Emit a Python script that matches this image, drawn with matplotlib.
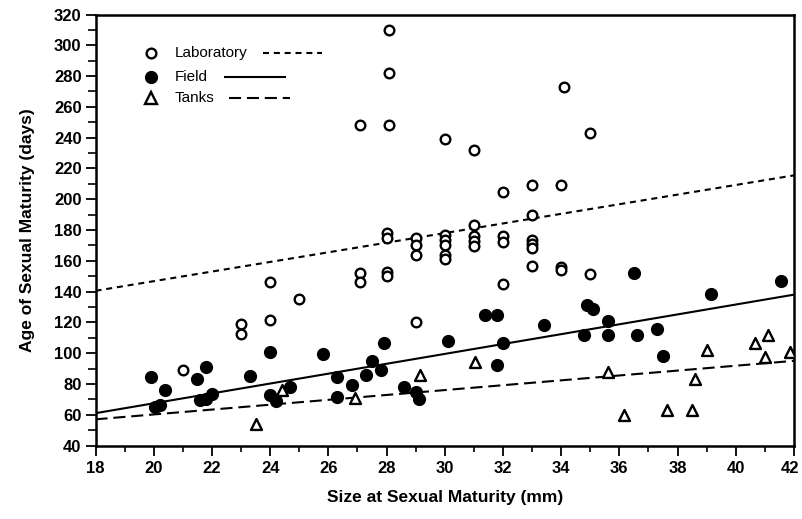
import matplotlib
matplotlib.use("Agg")
import matplotlib.pyplot as plt
from matplotlib.lines import Line2D
from matplotlib.ticker import MultipleLocator
import matplotlib.transforms as mtransforms

# ---- data ----
lab_x = [28.1, 28.1, 34.1, 27.1, 28.1, 30.0, 31.0, 35.0,
         32.0, 33.0, 34.0, 33.0, 31.0,
         28.0, 28.0, 29.0, 29.0, 29.0,
         30.0, 30.0, 30.0, 30.0, 30.0,
         31.0, 31.0, 31.0,
         32.0, 32.0,
         33.0, 33.0, 33.0,
         27.1, 27.1, 28.0, 28.0, 32.0, 33.0, 34.0, 34.0, 35.0,
         24.0, 25.0, 23.0, 23.0, 24.0, 21.0, 29.0]
lab_y = [310, 282, 273, 248, 248, 239, 232, 243,
         205, 209, 209, 190, 183,
         178, 175, 175, 170, 164,
         177, 173.5, 170.5, 164, 161,
         176, 173, 169.5,
         176, 172.5,
         173.5, 171, 168,
         152, 146.5, 152.5, 150, 145, 156.5, 156, 154, 151.5,
         146.5, 135, 119, 112.5, 121.5, 89, 120.5]

field_x = [19.9, 20.4, 20.05, 20.2, 21.5, 21.8, 21.6, 21.8, 22.0, 23.3,
           24.0, 24.0, 24.2, 24.7, 25.8, 26.3, 26.3, 26.8, 27.5, 27.3,
           27.8, 27.9, 28.6, 29.0, 29.1, 30.1, 31.4, 31.8, 32.0, 31.8,
           33.4, 34.9, 35.1, 35.6, 34.8, 35.6, 36.6, 37.3, 37.5, 36.5,
           39.15, 41.55]
field_y = [84.5, 76, 65, 66.5, 83, 91, 69.5, 70, 73.5, 85,
           101, 73, 69, 78, 99.5, 84.5, 71.5, 79, 95, 85.5,
           89, 106.5, 78, 74.5, 70, 108, 125, 125, 106.5, 92,
           118, 131, 129, 121, 112, 112, 112, 116, 98, 152,
           138.5, 147]

tank_x = [23.5, 24.4, 26.9, 29.15, 31.05, 35.6, 36.15, 37.65, 38.5, 38.6,
          39.0, 40.65, 41.1, 41.0, 41.85]
tank_y = [54, 76, 71, 86, 94, 88, 59.5, 63, 63, 83.5,
          102, 106.5, 112, 97.5, 100.5]

line_x = [18, 42]
lab_line = [140.5, 215.5]
field_line = [61, 138]
tank_line = [57, 95]

legend_labels = ["Laboratory", "Field", "Tanks"]
xticks = list(range(18, 43, 2))
yticks = list(range(40, 321, 20))

# ---- figure ----
W, H = 802, 519
fig = plt.figure(figsize=(W / 100, H / 100), dpi=100)
ax = fig.add_axes([95.5 / W, 1 - 445.5 / H, (794 - 95.5) / W, (445.5 - 14.5) / H])

bold = ["Liberation Sans", "DejaVu Sans"]
reg = ["Liberation Sans", "DejaVu Sans"]

lab_ls = (0, (2.9, 2.3))
tank_ls = (0, (5.8, 2.8))

ax.plot(line_x, lab_line, color="black", lw=1.5, ls=lab_ls)
ax.plot(line_x, field_line, color="black", lw=1.5, ls="-")
ax.plot(line_x, tank_line, color="black", lw=1.5, ls=tank_ls)

ax.scatter(lab_x, lab_y, s=48, facecolors="white", edgecolors="black", linewidths=1.7, zorder=3)
ax.scatter(field_x, field_y, s=72, facecolors="black", edgecolors="black", linewidths=1, zorder=3)
ax.scatter(tank_x, tank_y, s=62, marker="^", facecolors="white", edgecolors="black", linewidths=1.7, zorder=3)

ax.set_xlim(18, 42)
ax.set_ylim(40, 320)
ax.set_xticks(xticks)
ax.set_yticks(yticks)
ax.xaxis.set_minor_locator(MultipleLocator(1))
ax.yaxis.set_minor_locator(MultipleLocator(10))
ax.tick_params(axis="x", which="major", direction="out", length=7, width=1.3, color="black", pad=4)
ax.tick_params(axis="y", which="major", direction="out", length=7, width=1.3, color="black", pad=3)
ax.tick_params(axis="x", which="minor", direction="out", length=4, width=1.2)
ax.tick_params(axis="y", which="minor", direction="out", length=6, width=1.2)
for lbl in ax.get_xticklabels() + ax.get_yticklabels():
    lbl.set_fontfamily(bold)
    lbl.set_fontweight("bold")
    lbl.set_fontsize(12)
# keep the last x tick label inside the canvas
last = ax.get_xticklabels()[-1]
last.set_transform(last.get_transform() + mtransforms.ScaledTranslation(-4 / 100, 0, fig.dpi_scale_trans))
for sp in ax.spines.values():
    sp.set_linewidth(1.8)

ax.set_xlabel("Size at Sexual Maturity (mm)", fontsize=12.5, fontweight="bold",
              family=bold, labelpad=10)
ax.set_ylabel("Age of Sexual Maturity (days)", fontsize=12.5, fontweight="bold",
              family=bold, labelpad=14)

# ---- legend (manual, in figure pixel coords) ----
def fx(px):
    return px / W

def fy(py):
    return 1 - py / H

rows = [
    (53, dict(marker="o", mfc="white", mec="black", ms=7, mew=1.7), lab_ls, 263, 322),
    (77, dict(marker="o", mfc="black", mec="black", ms=8.5, mew=1), "-", 225, 285),
    (98, dict(marker="^", mfc="white", mec="black", ms=8, mew=1.7), tank_ls, 229, 290),
]
for label, (py, mk, ls, x0, x1) in zip(legend_labels, rows):
    fig.add_artist(Line2D([fx(151)], [fy(py)], transform=fig.transFigure, ls="none", **mk))
    fig.text(fx(175), fy(py), label, fontsize=11, family=reg, va="center", ha="left")
    fig.add_artist(Line2D([fx(x0), fx(x1)], [fy(py), fy(py)], transform=fig.transFigure,
                          color="black", lw=1.5, ls=ls))

fig.savefig("out.png", dpi=100)
